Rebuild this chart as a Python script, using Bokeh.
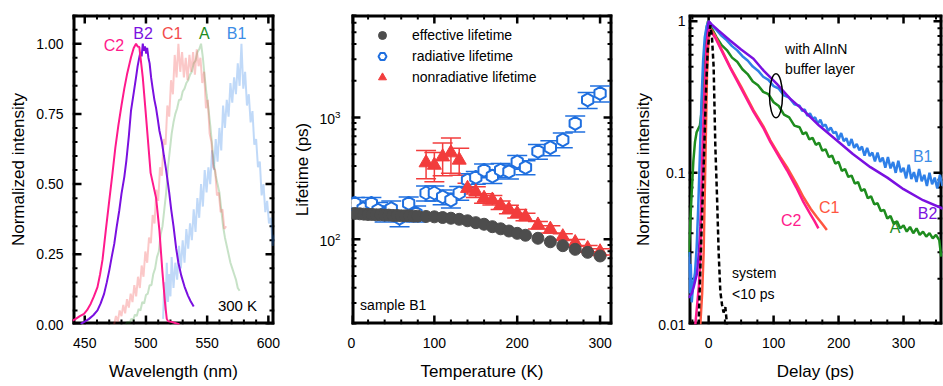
import numpy as np
from bokeh.plotting import figure
from bokeh.models import (ColumnDataSource, Range1d, Label, Whisker, TeeHead, Legend, LegendItem,
                          SingleIntervalTicker, LogTicker, NumeralTickFormatter, Ellipse)
from bokeh.layouts import row
from bokeh.embed import file_html
from bokeh.resources import INLINE

FONT = "Liberation Sans"

# ---------------- panel a: spectra ----------------
c2_wl = [440, 442.6, 446, 449.4, 452, 454.9, 457.5, 460.4, 462.5, 464.5, 467.2, 470, 472.7, 475, 477.5, 480,
         482.3, 484.5, 487.8, 490, 491.9, 493.2, 494.6, 497.4, 499.7, 503.8, 508.3, 511, 513.4, 515.5, 517,
         518, 522, 527.4]
c2_int = [0.014, 0.02, 0.03, 0.038, 0.052, 0.074, 0.1, 0.133, 0.178, 0.23, 0.335, 0.44, 0.54, 0.63, 0.71, 0.78,
          0.84, 0.89, 0.952, 0.985, 1.0, 0.99, 0.988, 0.88, 0.76, 0.54, 0.45, 0.335, 0.19, 0.08, 0.02,
          0.012, 0.008, 0.0]

b2_wl = [446.7, 450, 453.5, 457, 460.4, 463, 465.8, 468, 470, 472, 474.1, 476, 478.2, 480, 482.3, 484, 486,
         487.8, 490, 491.9, 493.2, 494.6, 495.5, 496.5, 497.4, 498.3, 499.2, 500.2, 501, 502, 503, 504.2,
         505.5, 506.9, 508.3, 509.7, 511, 513, 514.7, 516.5, 519, 520.6, 522.5, 524.7, 526.5, 528.8, 531.5,
         534.3, 536.5, 539]
b2_int = [0.002, 0.01, 0.02, 0.033, 0.05, 0.075, 0.109, 0.15, 0.192, 0.24, 0.287, 0.345, 0.406, 0.465, 0.525,
          0.584, 0.67, 0.762, 0.825, 0.88, 0.92, 0.952, 0.97, 0.955, 1.0, 0.975, 0.99, 0.965, 0.985, 0.95,
          0.93, 0.88, 0.84, 0.8, 0.77, 0.73, 0.69, 0.65, 0.6, 0.55, 0.47, 0.41, 0.35, 0.27, 0.22, 0.175,
          0.135, 0.103, 0.083, 0.064]

c1_wl = [474, 475.5, 477, 478.5, 480, 481.5, 483, 484.5, 486, 487.5, 489, 490.5, 492, 493.5, 495, 496.5, 498,
         499.5, 501, 502.5, 504, 505.5, 507, 508.5, 510, 511.5, 513, 514.5, 516, 517.5, 519, 520.5, 522,
         523.5, 525, 526.5, 528, 529.5, 531, 532.5, 534, 535.5, 537, 538.5, 540, 541.5, 543, 544.5, 546,
         547.5, 549, 550.5, 552, 553.5, 555, 556.5, 558, 559.5, 561, 562.5, 564, 565.5]
c1_int = [0.0, 0.03, 0.01, 0.05, 0.03, 0.07, 0.04, 0.09, 0.06, 0.11, 0.08, 0.14, 0.1, 0.17, 0.13, 0.21, 0.17,
          0.26, 0.22, 0.31, 0.29, 0.39, 0.36, 0.48, 0.44, 0.56, 0.53, 0.66, 0.64, 0.78, 0.74, 0.87, 0.82,
          0.96, 0.88, 1.0, 0.9, 0.97, 0.88, 0.95, 0.87, 0.96, 0.9, 0.97, 0.89, 0.98, 0.92, 0.95, 0.86, 0.9,
          0.77, 0.8, 0.68, 0.65, 0.56, 0.55, 0.46, 0.47, 0.4, 0.41, 0.34, 0.35]

a_wl = [483.5, 485, 486.5, 488, 489.5, 491, 492.5, 494, 495.5, 497, 498.5, 500, 501.5, 503, 504.5, 506, 507.5,
        509, 510.5, 512, 513.5, 515, 516.5, 518, 519.5, 521, 522.5, 524, 525.5, 527, 528.5, 530, 531.5, 533,
        534.5, 536, 537.5, 539, 540.5, 542, 543.5, 545, 546.5, 548, 549.5, 551, 552.5, 554, 555.5, 557,
        558.5, 560, 561.5, 563, 564.5, 566, 567.5, 569, 570.5, 572, 573.5, 575, 576.5]
a_int = [0.0, 0.01, 0.005, 0.02, 0.015, 0.035, 0.03, 0.055, 0.05, 0.08, 0.075, 0.105, 0.11, 0.14, 0.14, 0.18,
         0.2, 0.24, 0.26, 0.32, 0.35, 0.41, 0.47, 0.56, 0.62, 0.68, 0.72, 0.75, 0.77, 0.8, 0.8, 0.83, 0.84,
         0.86, 0.87, 0.89, 0.9, 0.93, 0.94, 0.97, 0.98, 1.0, 0.95, 0.88, 0.82, 0.77, 0.71, 0.64, 0.57, 0.53,
         0.5, 0.47, 0.41, 0.35, 0.31, 0.28, 0.25, 0.22, 0.2, 0.18, 0.16, 0.13, 0.12]

b1_wl = [514, 515, 516, 517, 518, 519, 520, 521, 522.5, 524, 525.5, 527, 528.5, 530, 531.5, 533, 534.5, 536,
         537.5, 539, 540.5, 542, 543.5, 545, 546.5, 548, 549.5, 551, 552.5, 554, 555.5, 557, 558.5, 560,
         561.5, 563, 564.5, 566, 567.5, 569, 570.5, 572, 573.5, 575, 576.5, 578, 579.5, 581, 582.5, 584,
         585.5, 587, 588.5, 590, 591.5, 593, 594.5, 596, 597.5, 599, 600.5, 602, 603.5, 605]
b1_int = [0.02, 0.15, 0.05, 0.22, 0.08, 0.18, 0.1, 0.24, 0.13, 0.22, 0.16, 0.28, 0.2, 0.3, 0.22, 0.34, 0.27,
          0.36, 0.3, 0.41, 0.33, 0.45, 0.38, 0.5, 0.42, 0.55, 0.47, 0.56, 0.5, 0.62, 0.55, 0.66, 0.58, 0.7,
          0.62, 0.78, 0.7, 0.8, 0.74, 0.86, 0.79, 0.88, 0.82, 0.93, 0.85, 1.0, 0.84, 0.9, 0.78, 0.82, 0.72,
          0.76, 0.64, 0.66, 0.56, 0.58, 0.46, 0.5, 0.4, 0.44, 0.36, 0.38, 0.28, 0.32]

# ---------------- panel b: lifetimes ----------------
eff_T = [4, 10, 15, 20, 25, 30, 35, 40, 45, 50, 55, 60, 65, 70, 75, 80, 90, 100, 110, 120, 130, 140, 150,
         160, 170, 180, 190, 200, 210, 225, 240, 255, 270, 285, 300]
eff_tau = [163, 162, 161, 160, 160, 159, 159, 158, 158, 157, 157, 156, 156, 156, 155, 155, 154, 153, 151,
           149, 146, 142, 137, 133, 127, 122, 117, 112, 108, 102, 95.5, 88.7, 82.8, 78.2, 73]

rad_T = [4, 14, 24, 32, 40, 48, 58, 69, 78, 90, 100, 110, 120, 130, 140, 150, 160, 170, 180, 190, 200, 210,
         225, 240, 255, 270, 285, 300]
rad_tau = [197, 179, 197, 174, 163, 179, 149, 197, 163, 240, 240, 223, 210, 240, 306, 322, 368, 330, 370,
           360, 432, 390, 527, 565, 655, 893, 1395, 1574]
rad_err = [0.12, 0.15, 0.12, 0.15, 0.15, 0.15, 0.15, 0.13, 0.15, 0.14, 0.14, 0.14, 0.14, 0.13, 0.13, 0.12,
           0.13, 0.13, 0.13, 0.13, 0.13, 0.13, 0.14, 0.14, 0.14, 0.15, 0.15, 0.15]

nonrad_T = [90, 100, 110, 120, 130, 140, 150, 160, 170, 180, 190, 200, 210, 225, 240, 255, 270, 285, 300]
nonrad_tau = [425, 406, 475, 513, 447, 262, 245, 217, 210, 191, 176, 163, 153, 131, 121, 105, 94, 84, 79]
nonrad_err = [0.26, 0.27, 0.3, 0.32, 0.25, 0.1, 0.1, 0.09, 0.09, 0.08, 0.08, 0.08, 0.07, 0.07, 0.07, 0.06,
              0.06, 0.06, 0.06]

# ---------------- panel c: transients ----------------
b2_t = [-31, -26, -23, -18, -15, -12.8, -10, -7.7, -5, -3.5, -1, 0, 5, 15, 33, 50, 69, 85, 105, 125, 146,
        170, 197, 222, 249, 275, 300, 330, 361]
b2_i = [0.015, 0.016, 0.0177, 0.0216, 0.03, 0.044, 0.09, 0.18, 0.4, 0.64, 0.93, 1.0, 0.95, 0.87, 0.746,
        0.65, 0.565, 0.47, 0.386, 0.31, 0.258, 0.205, 0.164, 0.133, 0.109, 0.093, 0.078, 0.066, 0.058]

b1_t = [-31, -30, -29, -27.5, -26, -24, -21, -18.5, -16, -13.5, -11, -8.5, -6, -3, 0, 4, 12, 20, 28, 36, 44,
        52, 60, 68, 76, 84, 92, 100, 108, 116, 124, 132, 140, 144, 148, 152, 156, 160, 164, 168, 172, 176,
        180, 184, 188, 192, 196, 200, 204, 208, 212, 216, 220, 224, 228, 232, 236, 240, 244, 248, 252, 256,
        260, 264, 268, 272, 276, 280, 284, 288, 292, 296, 300, 304, 308, 312, 316, 320, 324, 328, 332, 336,
        340, 344, 348, 352, 356, 360]
b1_i = [0.022, 0.03, 0.016, 0.025, 0.014, 0.018, 0.022, 0.032, 0.06, 0.13, 0.3, 0.55, 0.78, 0.93, 1.0, 0.95,
        0.875, 0.8, 0.748, 0.685, 0.642, 0.588, 0.551, 0.502, 0.472, 0.43, 0.41, 0.373, 0.359, 0.324,
        0.313, 0.283, 0.277, 0.256, 0.262, 0.238, 0.247, 0.228, 0.232, 0.211, 0.224, 0.203, 0.208, 0.189,
        0.199, 0.183, 0.186, 0.166, 0.183, 0.162, 0.169, 0.151, 0.167, 0.146, 0.155, 0.141, 0.149, 0.13,
        0.146, 0.129, 0.136, 0.119, 0.136, 0.118, 0.126, 0.108, 0.127, 0.107, 0.118, 0.1, 0.12, 0.101,
        0.108, 0.092, 0.113, 0.091, 0.101, 0.087, 0.106, 0.088, 0.097, 0.082, 0.1, 0.084, 0.093, 0.079,
        0.097, 0.082]

a_t = [-31, -28.5, -26, -23.5, -21, -18.5, -16, -13.5, -11, -8.5, -6, -3.5, -1, 4, 12, 20, 28, 36, 44, 52,
       60, 68, 76, 84, 92, 100, 108, 116, 124, 132, 140, 145, 150, 155, 160, 165, 170, 175, 180, 185, 190,
       195, 200, 205, 210, 215, 220, 225, 230, 235, 240, 245, 250, 255, 260, 265, 270, 275, 280, 285, 290,
       295, 300, 305, 310, 315, 320, 325, 330, 335, 340, 345, 350, 355, 358]
a_i = [0.028, 0.045, 0.075, 0.12, 0.16, 0.185, 0.195, 0.205, 0.25, 0.4, 0.65, 0.88, 1.0, 0.91, 0.785, 0.695,
       0.645, 0.575, 0.54, 0.482, 0.448, 0.4, 0.378, 0.342, 0.33, 0.292, 0.276, 0.242, 0.232, 0.205, 0.2,
       0.18, 0.185, 0.166, 0.17, 0.153, 0.158, 0.14, 0.143, 0.127, 0.13, 0.115, 0.118, 0.103, 0.106, 0.094,
       0.096, 0.085, 0.087, 0.076, 0.078, 0.068, 0.07, 0.062, 0.063, 0.056, 0.057, 0.05, 0.052, 0.046, 0.048,
       0.043, 0.045, 0.041, 0.044, 0.04, 0.043, 0.039, 0.041, 0.038, 0.04, 0.037, 0.039, 0.036, 0.028]

c1_t = [-12.8, -10, -7.7, -5, -2.5, 0, 2.6, 10, 20, 33.4, 50, 69.2, 85, 95, 110, 120.6, 135, 146, 157, 166.8,
        175, 182]
c1_i = [0.01, 0.016, 0.03, 0.12, 0.45, 0.78, 0.9, 0.8, 0.65, 0.497, 0.37, 0.258, 0.2, 0.164, 0.128, 0.109,
        0.085, 0.069, 0.058, 0.051, 0.046, 0.042]

c2_t = [-20.5, -15, -12.8, -10.2, -7, -3.5, -1, 1, 10, 20, 33.4, 50, 69.2, 85, 95, 110, 120.6, 135, 146, 157,
        163, 169]
c2_i = [0.01, 0.018, 0.027, 0.11, 0.3, 0.64, 0.82, 0.88, 0.78, 0.64, 0.49, 0.36, 0.252, 0.195, 0.16, 0.124,
        0.104, 0.08, 0.064, 0.053, 0.048, 0.043]

sys_t = [-15.4, -12, -7.7, -4, -1.5, 2.6, 5, 7.7, 10.3, 12.9, 15.4, 18, 20.6, 23, 25.7, 28.3, 30]
sys_i = [0.01, 0.03, 0.109, 0.35, 0.64, 0.94, 0.8, 0.5, 0.15, 0.07, 0.03, 0.0165, 0.0135, 0.012, 0.013, 0.01,
         0.008]

# ---------------- tick positions ----------------
a_xmaj = [450, 500, 550, 600]
a_xmin = [v for v in range(440, 606, 10) if v % 50]
a_ymaj = [0, 0.25, 0.5, 0.75, 1.0]
a_ymin = [round(0.05 * k, 2) for k in range(1, 23) if k % 5]
b_xmaj = [0, 100, 200, 300]
b_xmin = [v for v in range(20, 315, 20) if v % 100]
b_ymaj = [100, 1000]
b_ymin = [m * 10 ** e for e in (1, 2, 3) for m in range(2, 10) if 20 <= m * 10 ** e <= 7000]
c_xmaj = [0, 100, 200, 300]
c_xmin = [v for v in range(-25, 360, 25) if v % 100]
c_ymaj = [0.01, 0.1, 1]
c_ymin = [m * 10.0 ** e for e in (-2, -1) for m in range(2, 10)]

# ---------------- colours ----------------
PINK = "#FF1A8C"
PURPLE = "#7A10E0"
RED = "#F24A4A"
ORANGE = "#FF5540"
GREEN = "#1E8C1E"
BLUE = "#2F80E8"
LBLUE = "#3C8CE6"
GRAY = "#4D4D4D"
RAD_BLUE = "#1F6FDF"
NR_RED = "#F23C3C"

H = 385
TOP = 14
BOTTOM = 61
FH = H - TOP - BOTTOM


def style_axis(ax):
    ax.major_tick_in = 0
    ax.major_tick_out = 0
    ax.minor_tick_in = 0
    ax.minor_tick_out = 0
    ax.major_tick_line_color = None
    ax.minor_tick_line_color = None
    ax.axis_line_color = None
    ax.major_label_text_font = FONT
    ax.major_label_text_font_size = "14px"
    ax.major_label_text_color = "black"
    ax.axis_label_text_font = FONT
    ax.axis_label_text_font_size = "17px"
    ax.axis_label_text_font_style = "normal"
    ax.axis_label_text_color = "black"


def make_fig(width, mbl, mbr, xr, yr, ylog=False):
    p = figure(width=width, height=H, x_range=Range1d(*xr), y_range=Range1d(*yr), title=None,
               y_axis_type="log" if ylog else "linear",
               output_backend="svg", toolbar_location=None,
               min_border_left=mbl, min_border_right=mbr, min_border_top=TOP, min_border_bottom=BOTTOM)
    p.outline_line_color = None
    p.grid.visible = False
    p.background_fill_color = "white"
    p.border_fill_color = "white"
    return p


def bar(p, base, lower, upper, dim, width):
    src = ColumnDataSource(dict(base=list(base), lower=list(lower), upper=list(upper)))
    p.add_layout(Whisker(source=src, base="base", lower="lower", upper="upper", dimension=dim,
                         line_color="black", line_width=width, upper_head=None, lower_head=None))


def frame_and_ticks(p, xr, yr, fw, xmaj, xmin, ymaj, ymin, ylog=False):
    x0, x1 = xr
    y0, y1 = yr
    pxx = fw / (x1 - x0)
    if ylog:
        pyl = FH / (np.log10(y1) - np.log10(y0))
        up = lambda y, L: float(y * 10 ** (L / pyl))
        dn = lambda y, L: float(y / 10 ** (L / pyl))
    else:
        pyy = FH / (y1 - y0)
        up = lambda y, L: float(y + L / pyy)
        dn = lambda y, L: float(y - L / pyy)
    for xt, yt, L, w in ((xmaj, ymaj, 9, 2.5), (xmin, ymin, 5, 2)):
        n = len(xt)
        bar(p, xt, [y0] * n, [up(y0, L)] * n, "height", w)
        bar(p, xt, [dn(y1, L)] * n, [y1] * n, "height", w)
        m = len(yt)
        bar(p, yt, [x0] * m, [float(x0 + L / pxx)] * m, "width", w)
        bar(p, yt, [float(x1 - L / pxx)] * m, [x1] * m, "width", w)
    bar(p, [y0, y1], [x0, x0], [x1, x1], "width", 6)
    bar(p, [x0, x1], [y0, y0], [y1, y1], "height", 6)


def txt(p, x, y, text, color="black", size="14px", align="center"):
    p.add_layout(Label(x=x, y=y, text=text, text_font=FONT, text_font_size=size,
                       text_color=color, text_align=align, text_baseline="middle"))


# ================= panel a =================
XA, YA, FWA = (440, 605), (0, 1.104), 202
pa = make_fig(290, 72, 16, XA, YA)
frame_and_ticks(pa, XA, YA, FWA, a_xmaj, a_xmin, a_ymaj, a_ymin)
pa.line(b1_wl, b1_int, line_color=BLUE, line_alpha=0.3, line_width=2)
pa.line(a_wl, a_int, line_color=GREEN, line_alpha=0.25, line_width=2)
pa.line(c1_wl, c1_int, line_color=RED, line_alpha=0.3, line_width=2)
pa.line(b2_wl, b2_int, line_color=PURPLE, line_width=2)
pa.line(c2_wl, c2_int, line_color=PINK, line_width=2)

pa.xaxis.ticker = SingleIntervalTicker(interval=50)
pa.yaxis.ticker = SingleIntervalTicker(interval=0.25)
pa.yaxis.formatter = NumeralTickFormatter(format="0.00")
for ax in pa.axis:
    style_axis(ax)
pa.xaxis.axis_label = "Wavelength (nm)"
pa.yaxis.axis_label = "Normalized intensity"
pa.yaxis.major_label_standoff = 9
pa.yaxis.axis_label_standoff = 5
pa.xaxis.major_label_standoff = 13
pa.xaxis.axis_label_standoff = 11

txt(pa, 473.8, 0.994, "C2", PINK, "16px")
txt(pa, 497.6, 1.037, "B2", PURPLE, "16px")
txt(pa, 521.4, 1.037, "C1", RED, "16px")
txt(pa, 547.7, 1.037, "A", GREEN, "16px")
txt(pa, 574.0, 1.037, "B1", LBLUE, "16px")
txt(pa, 574.8, 0.068, "300 K", "black", "15px")
txt(pa, 387.7, 1.097, "a)", "black", "17px", "left")

# ================= panel b =================
XB, YB, FWB = (0, 315), (20, 7000), 263
pb = make_fig(338, 59, 16, XB, YB, ylog=True)
frame_and_ticks(pb, XB, YB, FWB, b_xmaj, b_xmin, b_ymaj, b_ymin, ylog=True)

rad_src = ColumnDataSource(dict(T=rad_T, tau=rad_tau,
                                lo=[t * (1 - e) for t, e in zip(rad_tau, rad_err)],
                                hi=[t * (1 + e) for t, e in zip(rad_tau, rad_err)]))
nr_src = ColumnDataSource(dict(T=nonrad_T, tau=nonrad_tau,
                               lo=[t * (1 - e) for t, e in zip(nonrad_tau, nonrad_err)],
                               hi=[t * (1 + e) for t, e in zip(nonrad_tau, nonrad_err)]))
eff_src = ColumnDataSource(dict(T=eff_T, tau=eff_tau))

pb.add_layout(Whisker(source=rad_src, base="T", lower="lo", upper="hi", line_color=RAD_BLUE,
                      line_width=1.5,
                      upper_head=TeeHead(size=20, line_color=RAD_BLUE, line_width=1.5),
                      lower_head=TeeHead(size=20, line_color=RAD_BLUE, line_width=1.5)))
pb.add_layout(Whisker(source=nr_src, base="T", lower="lo", upper="hi", line_color=NR_RED,
                      line_width=1.5,
                      upper_head=TeeHead(size=20, line_color=NR_RED, line_width=1.5),
                      lower_head=TeeHead(size=20, line_color=NR_RED, line_width=1.5)))

r_rad = pb.scatter("T", "tau", source=rad_src, marker="hex", size=13, angle=np.pi / 6,
                   fill_color="white", line_color=RAD_BLUE, line_width=2)
r_nr = pb.scatter("T", "tau", source=nr_src, marker="triangle", size=14,
                  fill_color=NR_RED, line_color=NR_RED, line_width=1)
r_eff = pb.scatter("T", "tau", source=eff_src, marker="circle", size=12,
                   fill_color=GRAY, line_color=GRAY, line_width=1)

pb.xaxis.ticker = SingleIntervalTicker(interval=100)
pb.yaxis.ticker = LogTicker()
for ax in pb.axis:
    style_axis(ax)
pb.xaxis.axis_label = "Temperature (K)"
pb.yaxis.axis_label = "Lifetime (ps)"
pb.yaxis.major_label_standoff = 11
pb.yaxis.axis_label_standoff = 4
pb.xaxis.major_label_standoff = 13
pb.xaxis.axis_label_standoff = 11

leg = Legend(items=[LegendItem(label="effective lifetime", renderers=[r_eff]),
                    LegendItem(label="radiative lifetime", renderers=[r_rad]),
                    LegendItem(label="nonradiative lifetime", renderers=[r_nr])],
             location="top_left")
leg.border_line_color = None
leg.background_fill_alpha = 0
leg.label_text_font = FONT
leg.label_text_font_size = "14px"
leg.label_text_color = "black"
leg.glyph_width = 40
leg.glyph_height = 20
leg.spacing = 1
leg.padding = 5
leg.margin = 11
leg.label_standoff = 10
leg.label_height = 20
pb.add_layout(leg)

txt(pb, 10.4, 28.9, "sample B1", "black", "14px", "left")
txt(pb, -67.1, 5688, "b)", "black", "17px", "left")

# ================= panel c =================
XC, YC, FWC = (-31, 360), (0.01, 1.107), 254
pc = make_fig(315, 60, 1, XC, YC, ylog=True)
frame_and_ticks(pc, XC, YC, FWC, c_xmaj, c_xmin, c_ymaj, c_ymin, ylog=True)
pc.line(a_t, a_i, line_color=GREEN, line_width=2.5)
pc.line(b1_t, b1_i, line_color=BLUE, line_width=2.5)
pc.line(b2_t, b2_i, line_color=PURPLE, line_width=2.5)
pc.line(c1_t, c1_i, line_color=ORANGE, line_width=2.5)
pc.line(c2_t, c2_i, line_color=PINK, line_width=2.5)
pc.line(sys_t, sys_i, line_color="black", line_width=2.5, line_dash="5 3")

pc.add_glyph(Ellipse(x=103.7, y=0.322, width=13, height=44, width_units="screen", height_units="screen",
                     fill_color=None, line_color="black", line_width=1.5))

pc.xaxis.ticker = SingleIntervalTicker(interval=100)
pc.yaxis.ticker = LogTicker()
pc.yaxis.formatter = NumeralTickFormatter(format="0.[00]")
for ax in pc.axis:
    style_axis(ax)
pc.xaxis.axis_label = "Delay (ps)"
pc.yaxis.axis_label = "Normalized intensity"
pc.yaxis.major_label_standoff = 3
pc.yaxis.axis_label_standoff = 2
pc.xaxis.major_label_standoff = 13
pc.xaxis.axis_label_standoff = 11

txt(pc, 117.7, 0.658, "with AlInN", "black", "14px", "left")
txt(pc, 117.7, 0.485, "buffer layer", "black", "14px", "left")
txt(pc, 36, 0.0219, "system", "black", "14px", "left")
txt(pc, 36, 0.0158, "<10 ps", "black", "14px", "left")
txt(pc, 329.5, 0.128, "B1", LBLUE, "16px")
txt(pc, 337, 0.0543, "B2", PURPLE, "16px")
txt(pc, 287, 0.0433, "A", GREEN, "16px")
txt(pc, 185.7, 0.0595, "C1", ORANGE, "16px")
txt(pc, 127, 0.0485, "C2", PINK, "16px")
txt(pc, -112.6, 0.937, "c)", "black", "17px", "left")

layout = row(pa, pb, pc)
open("out.html", "w").write(file_html(layout, INLINE))
